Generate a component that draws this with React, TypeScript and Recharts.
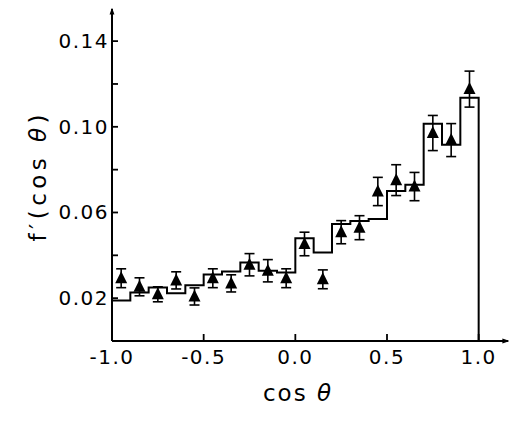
import { ComposedChart, ErrorBar, Label, Line, Scatter, XAxis, YAxis } from "recharts";

// histogram (model), one value per bin of width 0.1, left bin edge
const binEdges = [-1.0, -0.9, -0.8, -0.7, -0.6, -0.5, -0.4, -0.3, -0.2, -0.1, 0.0, 0.1, 0.2, 0.3, 0.4, 0.5, 0.6, 0.7, 0.8, 0.9];
const histValues = [0.0189, 0.0226, 0.025, 0.0223, 0.026, 0.031, 0.0325, 0.0367, 0.0328, 0.032, 0.048, 0.0413, 0.0546, 0.056, 0.057, 0.07, 0.0729, 0.1014, 0.0916, 0.1136];

// measured points with errors
const pointX = [-0.95, -0.85, -0.75, -0.65, -0.55, -0.45, -0.35, -0.25, -0.15, -0.05, 0.05, 0.15, 0.25, 0.35, 0.45, 0.55, 0.65, 0.75, 0.85, 0.95];
const pointY = [0.0293, 0.0253, 0.0218, 0.0283, 0.0208, 0.0293, 0.0269, 0.0356, 0.0328, 0.0293, 0.0453, 0.0288, 0.0508, 0.0529, 0.0698, 0.0751, 0.0721, 0.0971, 0.0938, 0.1176];
const pointErr = [0.0044, 0.0042, 0.0035, 0.004, 0.004, 0.0044, 0.004, 0.0052, 0.0052, 0.0044, 0.0055, 0.0044, 0.0054, 0.0056, 0.0066, 0.0072, 0.0066, 0.0082, 0.0077, 0.0084];

const xTicks = [-1.0, -0.5, 0.0, 0.5, 1.0];
const yTicks = [0.02, 0.04, 0.06, 0.08, 0.1, 0.12, 0.14];
const yLabelled = [0.02, 0.06, 0.1, 0.14];

const histData = [
  ...binEdges.map((x, i) => ({ x, y: histValues[i] })),
  { x: 1.0, y: histValues[histValues.length - 1] },
  { x: 1.0, y: 0 },
];
const pointData = pointX.map((x, i) => ({ x, y: pointY[i], err: pointErr[i] }));

const font = "'DejaVu Sans', sans-serif";

const YTick = ({ x, y, payload }: any) => {
  const show = yLabelled.some((v) => Math.abs(v - payload.value) < 1e-6);
  return (
    <g>
      <line x1={x} x2={x + 6} y1={y} y2={y} stroke="#000" strokeWidth={1.8} />
      {show && (
        <text x={x - 3} y={y + 7} textAnchor="end" fontFamily={font} fontSize={20} letterSpacing={1.5} fill="#000">
          {payload.value.toFixed(2)}
        </text>
      )}
    </g>
  );
};

const XTick = ({ x, y, payload }: any) => (
  <g>
    <line x1={x} x2={x} y1={y} y2={y - 7} stroke="#000" strokeWidth={1.8} />
    <text x={x} y={y + 23} textAnchor="middle" fontFamily={font} fontSize={20} letterSpacing={1.5} fill="#000">
      {payload.value.toFixed(1)}
    </text>
  </g>
);

const Triangle = ({ cx, cy }: any) => (
  <polygon points={`${cx},${cy - 7} ${cx - 6},${cy + 5} ${cx + 6},${cy + 5}`} fill="#000" />
);

export default function App() {
  return (
    <div style={{ position: "absolute", left: 0, top: 0, background: "#fff" }}>
      <ComposedChart width={511} height={423} margin={{ top: 9, right: 3, bottom: 42, left: 52 }}>
        <defs>
          <marker id="arrow" viewBox="0 0 10 10" refX="8" refY="5" markerWidth="7" markerHeight="7" orient="auto-start-reverse" markerUnits="userSpaceOnUse">
            <path d="M0,1.5 L10,5 L0,8.5 z" fill="#000" />
          </marker>
        </defs>
        <XAxis
          dataKey="x"
          type="number"
          domain={[-1, 1.16]}
          ticks={xTicks}
          height={40}
          tickSize={0}
          tickMargin={0}
          tickLine={false}
          tick={<XTick />}
          axisLine={{ stroke: "#000", strokeWidth: 2, markerEnd: "url(#arrow)" }}
        >
          <Label
            content={({ viewBox }: any) => (
              <text x={viewBox.x + 186} y={viewBox.y + 60} textAnchor="middle" fontFamily={font} fontSize={23} letterSpacing={2} fill="#000">
                cos <tspan fontStyle="italic">θ</tspan>
              </text>
            )}
          />
        </XAxis>
        <YAxis
          dataKey="y"
          type="number"
          domain={[0, 0.155]}
          ticks={yTicks}
          width={60}
          tickSize={0}
          tickMargin={0}
          tickLine={false}
          tick={<YTick />}
          axisLine={{ stroke: "#000", strokeWidth: 2, markerStart: "url(#arrow)" }}
        >
          <Label
            content={({ viewBox }: any) => {
              const cx = viewBox.x - 14;
              const cy = viewBox.y + viewBox.height / 2 + 3;
              return (
                <text x={cx} y={cy} transform={`rotate(-90 ${cx} ${cy})`} textAnchor="middle" dominantBaseline="central" fontFamily={font} fontSize={23} textLength={127} lengthAdjust="spacing" fill="#000">
                  f′(cos <tspan fontStyle="italic">θ</tspan>)
                </text>
              );
            }}
          />
        </YAxis>
        <Line data={histData} dataKey="y" type="stepAfter" stroke="#000" strokeWidth={2} dot={false} activeDot={false} isAnimationActive={false} />
        <Scatter data={pointData} dataKey="y" shape={<Triangle />} isAnimationActive={false}>
          <ErrorBar dataKey="err" direction="y" width={5} stroke="#000" strokeWidth={1.6} isAnimationActive={false} />
        </Scatter>
      </ComposedChart>
    </div>
  );
}
